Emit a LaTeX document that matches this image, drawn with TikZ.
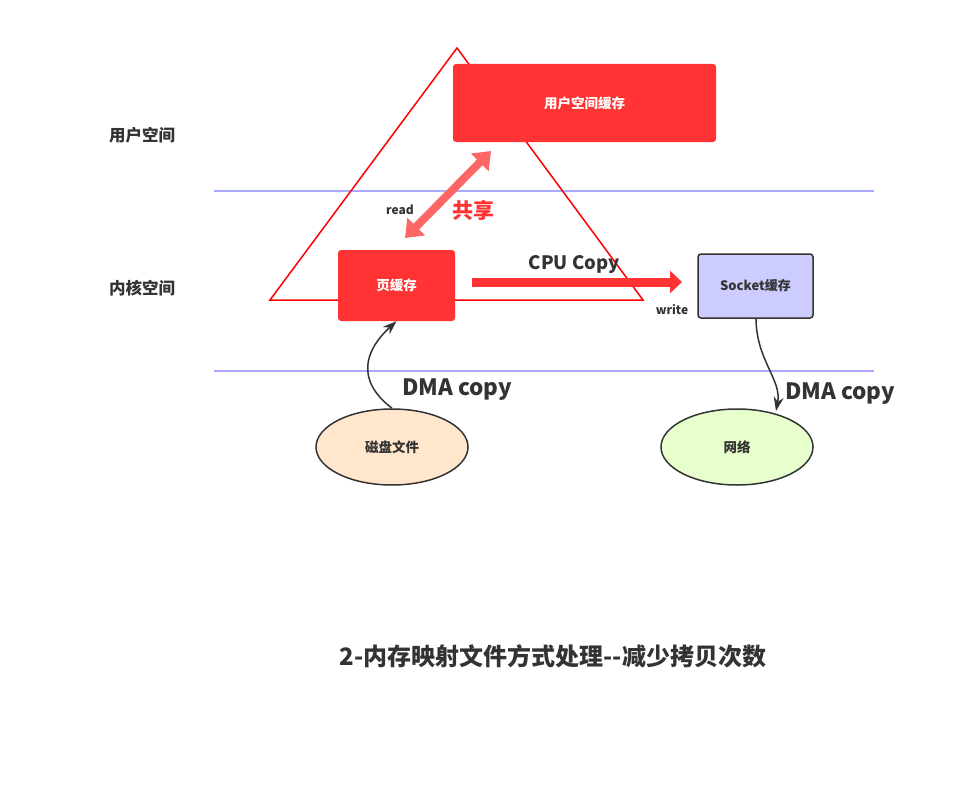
\documentclass[tikz,border=0pt]{standalone}
\usepackage{fontspec}
\setmainfont{Noto Sans CJK SC}
\usetikzlibrary{arrows.meta,shapes.geometric}
\definecolor{redbox}{HTML}{FF3333}
\definecolor{sharecol}{HTML}{FF6666}
\definecolor{sepline}{HTML}{AAAAFF}
\definecolor{darkline}{HTML}{333333}
\definecolor{sockfill}{HTML}{CCCCFF}
\definecolor{diskfill}{HTML}{FFE6CC}
\definecolor{netfill}{HTML}{E6FFCC}
\tikzset{
  redrect/.style={fill=redbox, rounded corners=3pt, text=white, font=\bfseries\fontsize{13.5}{15}\selectfont},
  sockrect/.style={fill=sockfill, draw=darkline, line width=1.5pt, rounded corners=3pt, text=darkline, font=\bfseries\fontsize{13}{15}\selectfont},
  ell/.style={ellipse, draw=darkline, line width=1.5pt, minimum width=152pt, minimum height=76pt, inner sep=0pt, text=darkline, font=\bfseries\fontsize{13.5}{15}\selectfont},
  sidelabel/.style={text=darkline, font=\bfseries\fontsize{16.5}{18}\selectfont},
  smalllabel/.style={text=darkline, font=\bfseries\fontsize{12}{14}\selectfont},
  dmalabel/.style={text=darkline, font=\bfseries\fontsize{22.5}{24}\selectfont},
  curvearrow/.style={draw=darkline, line width=1.5pt, -{Stealth[length=14pt,width=10pt]}},
}
\begin{document}
\begin{tikzpicture}[x=1pt,y=-1pt]
\useasboundingbox (0,0) rectangle (976,789);
% separator lines
\coordinate (s1a) at (214,191); \coordinate (s1b) at (874,191);
\coordinate (s2a) at (214,371); \coordinate (s2b) at (874,371);
\draw[sepline, line width=1.5pt] (s1a) -- (s1b);
\draw[sepline, line width=1.5pt] (s2a) -- (s2b);
% triangle
\coordinate (ta) at (457,48); \coordinate (tl) at (270,300); \coordinate (tr) at (643,300);
\draw[red, line width=1.5pt, line join=miter] (ta) -- (tl) -- (tr) -- cycle;
% boxes
\node[redrect, minimum width=263pt, minimum height=78pt] (ubuf) at (584.5,103) {用户空间缓存};
\node[redrect, minimum width=117pt, minimum height=71pt] (pbuf) at (396.5,285.5) {页缓存};
\node[sockrect, minimum width=115pt, minimum height=64pt] (sbuf) at (755.5,286) {Socket缓存};
\node[ell, fill=diskfill] (disk) at (392,447) {磁盘文件};
\node[ell, fill=netfill] (net) at (737,447) {网络};
% side labels
\node[sidelabel] (lu) at (142,135) {用户空间};
\node[sidelabel] (lk) at (142,288) {内核空间};
% shared arrow
\coordinate (sh1) at (405,238); \coordinate (sh2) at (491,151);
\draw[sharecol, line width=8pt, {Triangle[length=16pt,width=24pt]}-{Triangle[length=16pt,width=24pt]}] (sh1) -- (sh2);
\node[smalllabel] (rd) at (400,210) {read};
\node[text=redbox, font=\bfseries\fontsize{21}{23}\selectfont] (sh) at (473,210) {共享};
% CPU copy arrow
\coordinate (c1) at (472,282); \coordinate (c2) at (682,282);
\draw[redbox, line width=9pt, -{Triangle[length=12pt,width=22pt]}] (c1) -- (c2);
\node[text=darkline, font=\bfseries\fontsize{18.5}{20}\selectfont] (cpu) at (574,265) {CPU Copy};
\node[smalllabel] (wr) at (672,310) {write};
% DMA arrows
\draw[curvearrow] (disk.north) .. controls (355,380) and (365,350) .. (pbuf.south);
\coordinate (sb) at (756,318); \coordinate (nt) at (776,411);
\draw[curvearrow] (sb) .. controls (756,360) and (782,380) .. (nt);
\node[dmalabel] (d1) at (457,390) {DMA copy};
\node[dmalabel] (d2) at (840,394) {DMA copy};
% title
\node[text=darkline, font=\bfseries\fontsize{24}{26}\selectfont] (title) at (553,656) {2-内存映射文件方式处理-{}-减少拷贝次数};
\end{tikzpicture}
\end{document}
